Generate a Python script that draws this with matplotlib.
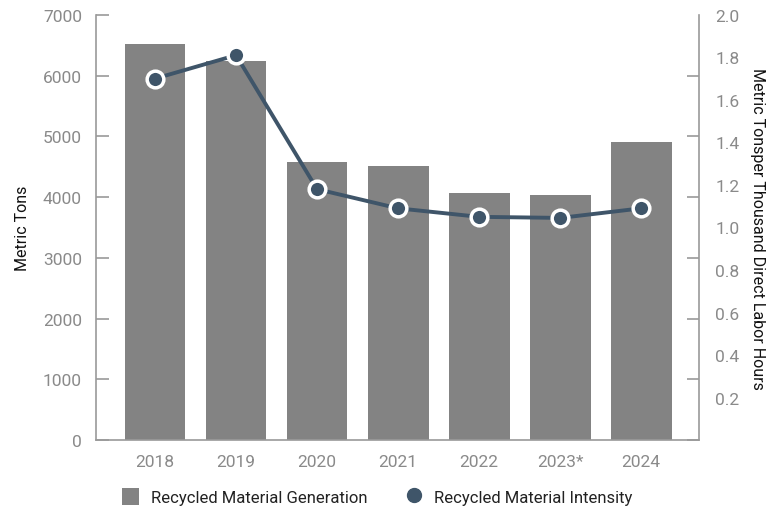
import numpy as np
import matplotlib
matplotlib.use("Agg")
import matplotlib.pyplot as plt
from matplotlib.lines import Line2D
from matplotlib.patches import Patch

plt.rcParams['font.family'] = ['Roboto', 'DejaVu Sans']

# data
years = ['2018', '2019', '2020', '2021', '2022', '2023*', '2024']
generation = [6520, 6240, 4580, 4520, 4070, 4035, 4910]      # metric tons
intensity = [1.70, 1.81, 1.18, 1.09, 1.05, 1.045, 1.09]        # tons per thousand labor hours

bar_color = '#838383'
line_color = '#3f5569'
axis_gray = '#9a9a9a'
label_gray = '#8a8a8a'

fig = plt.figure(figsize=(7.67, 5.10), dpi=100)
ax = fig.add_axes([0.125, 0.135, 0.786, 0.834])
x = np.arange(len(years))
ax.bar(x, generation, width=0.75, color=bar_color, zorder=1)
ax.set_xlim(-0.73, 6.71)
ax.set_ylim(0, 7000)
ax.set_yticks(range(0, 7001, 1000))
ax.set_xticks(x)
ax.set_xticklabels(years)
ax.tick_params(axis='y', direction='in', length=9, width=1.2, color=axis_gray,
               labelcolor=label_gray, labelsize=12.5, pad=10)
ax.tick_params(axis='x', length=0, labelcolor=label_gray, labelsize=12.5, pad=10)
for s in ['top', 'right']:
    ax.spines[s].set_visible(False)
for s in ['left', 'bottom']:
    ax.spines[s].set_color(axis_gray)
    ax.spines[s].set_linewidth(1.2)
ax.set_ylabel('Metric Tons', fontsize=11.5, color='#111111', labelpad=9)

# right axis: tick marks follow the left grid, labels every 0.2
ax2 = ax.twinx()
ax2.set_ylim(0, 2.0)
ax2.plot(x, intensity, color=line_color, lw=2.8, marker='o', markersize=12,
         markerfacecolor=line_color, markeredgecolor='white', markeredgewidth=2.5,
         zorder=3)
ax2.set_yticks(np.arange(0.2, 2.01, 0.2))
ax2.set_yticklabels([f'{v:.1f}' for v in np.arange(0.2, 2.01, 0.2)])
ax2.tick_params(axis='y', length=0, labelcolor=label_gray, labelsize=12.5, pad=12)
ax2.set_yticks(np.arange(0, 7001, 1000) * 2.0 / 7000, minor=True)
ax2.tick_params(axis='y', which='minor', direction='in', length=9, width=1.2, color=axis_gray)
for s in ['top', 'left', 'bottom']:
    ax2.spines[s].set_visible(False)
ax2.spines['right'].set_color(axis_gray)
ax2.spines['right'].set_linewidth(1.2)
ax2.set_ylabel('Metric Tonsper Thousand Direct Labor Hours', fontsize=11.5,
               color='#111111', rotation=270, labelpad=18)

handles = [Patch(facecolor=bar_color, edgecolor='none'),
           Line2D([], [], marker='o', ls='none', color=line_color, markersize=10)]
fig.legend(handles, ['Recycled Material Generation', 'Recycled Material Intensity'],
           loc='center', bbox_to_anchor=(0.492, 0.025), ncol=2, frameon=False,
           fontsize=12, labelcolor='#222222', handlelength=1.0, handleheight=1.2,
           columnspacing=2.3, handletextpad=0.7)

fig.savefig('out.png', dpi=100)
